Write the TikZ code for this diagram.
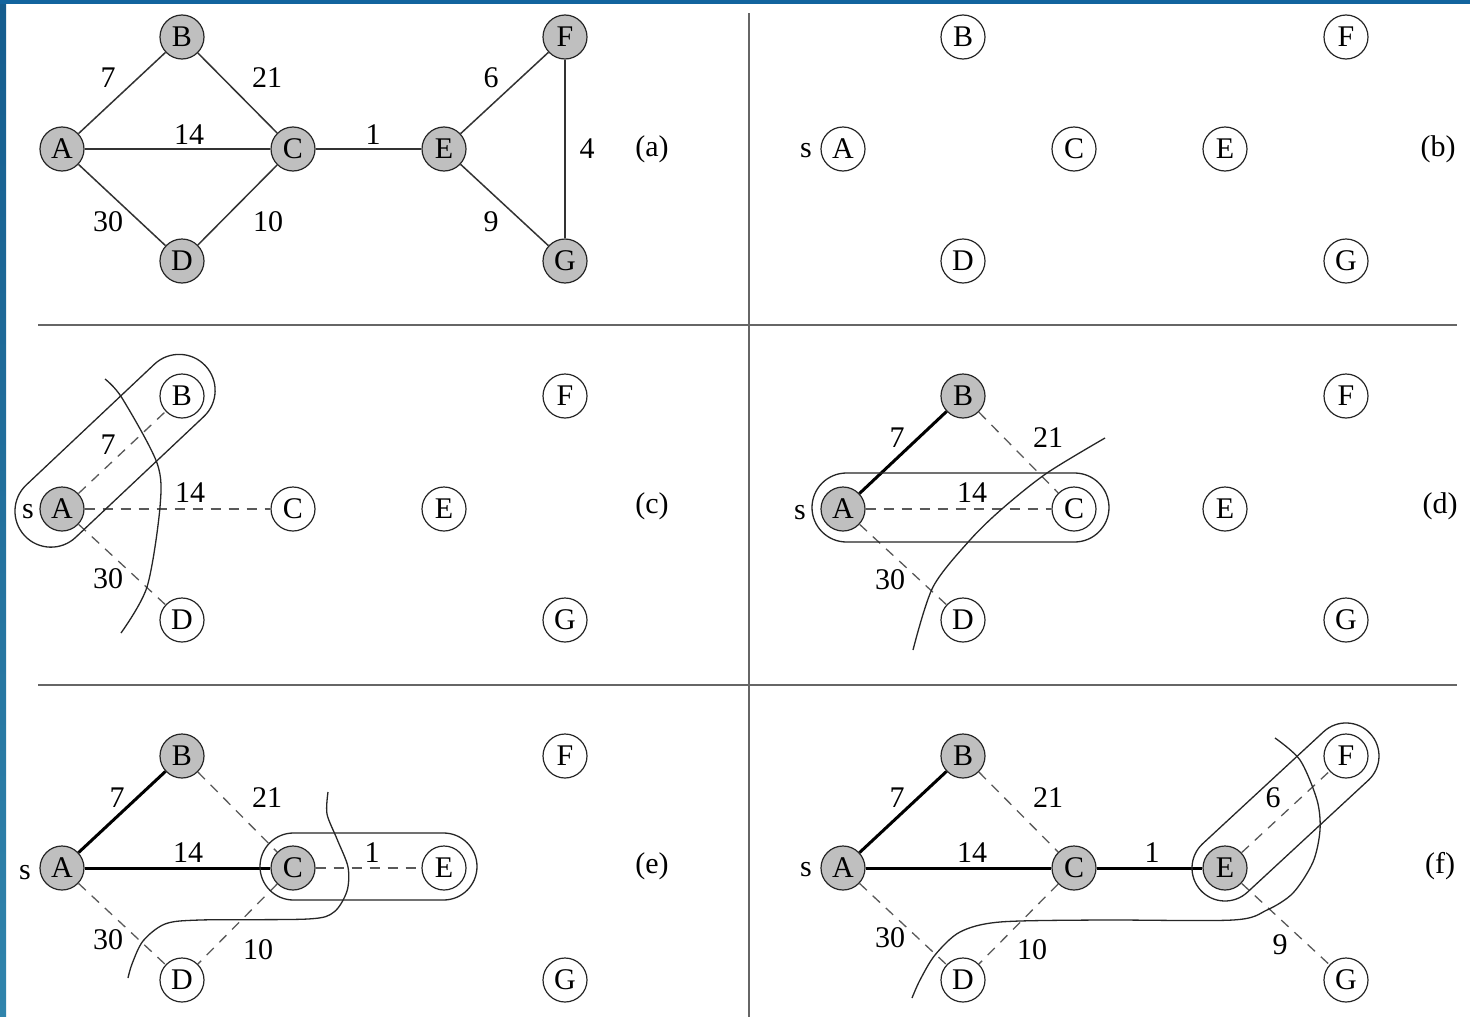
\documentclass[tikz,border=0pt]{standalone}
\usepackage{fontspec}
\setmainfont{Liberation Serif}
\newcommand\bigf{\fontsize{30}{36}\selectfont}
\definecolor{slideblue}{RGB}{18,100,158}
\definecolor{slideblueA}{RGB}{20,92,142}
\definecolor{slideblueB}{RGB}{48,132,172}
\begin{document}
\begin{tikzpicture}[x=1pt,y=-1pt,
  vtx/.style={circle, draw=black!85, line width=1.2pt, minimum size=44pt, inner sep=0pt, font=\bigf},
  gvtx/.style={vtx, fill=black!25},
  wvtx/.style={vtx, fill=white},
  plain/.style={draw=black!80, line width=1.5pt},
  tree/.style={draw=black, line width=3pt},
  cand/.style={draw=black!65, line width=1.3pt, dash pattern=on 10pt off 8pt},
  lbl/.style={font=\bigf, inner sep=0pt},
  grp/.style={draw=black!85, line width=1.3pt},
  cut/.style={draw=black!85, line width=1.3pt},
  divider/.style={draw=black!60, line width=2pt}
]
\useasboundingbox (0,0) rectangle (1470,1017);
\fill[white] (0,0) rectangle (1470,1017);
\shade[top color=slideblueA, bottom color=slideblueB] (0,0) rectangle (6,1017);
\fill[slideblue] (0,0) rectangle (1470,4);

% dividers
\coordinate (h1l) at (38,325); \coordinate (h1r) at (1457,325);
\coordinate (h2l) at (38,685); \coordinate (h2r) at (1457,685);
\coordinate (vt) at (749,13); \coordinate (vb) at (749,1017);
\draw[divider] (h1l) -- (h1r);
\draw[divider] (h2l) -- (h2r);
\draw[divider] (vt) -- (vb);

% ---------- panel (a)
\begin{scope}[name prefix=a-]
\node[gvtx] (A) at (62,149) {A};
\node[gvtx] (B) at (182,37) {B};
\node[gvtx] (C) at (293,149) {C};
\node[gvtx] (D) at (182,261) {D};
\node[gvtx] (E) at (444,149) {E};
\node[gvtx] (F) at (565,37) {F};
\node[gvtx] (G) at (565,261) {G};
\draw[plain] (A) -- (B); \draw[plain] (B) -- (C); \draw[plain] (A) -- (C);
\draw[plain] (A) -- (D); \draw[plain] (D) -- (C); \draw[plain] (C) -- (E);
\draw[plain] (E) -- (F); \draw[plain] (E) -- (G); \draw[plain] (F) -- (G);
\node[lbl] (l7) at (108,78) {7};
\node[lbl] (l21) at (267,78) {21};
\node[lbl] (l14) at (189,135) {14};
\node[lbl] (l1) at (373,135) {1};
\node[lbl] (l30) at (108,222) {30};
\node[lbl] (l10) at (268,222) {10};
\node[lbl] (l6) at (491,78) {6};
\node[lbl] (l4) at (587,149) {4};
\node[lbl] (l9) at (491,222) {9};
\node[lbl] (tag) at (652,149) {(a)};
\end{scope}

% ---------- panel (b)
\begin{scope}[shift={(781,0)}, name prefix=b-]
\node[wvtx] (A) at (62,149) {A};
\node[wvtx] (B) at (182,37) {B};
\node[wvtx] (C) at (293,149) {C};
\node[wvtx] (D) at (182,261) {D};
\node[wvtx] (E) at (444,149) {E};
\node[wvtx] (F) at (565,37) {F};
\node[wvtx] (G) at (565,261) {G};
\node[lbl] (s) at (25,151) {s};
\node[lbl] (tag) at (657,149) {(b)};
\end{scope}

% ---------- panel (c)
\begin{scope}[shift={(0,359)}, name prefix=c-]
\node[gvtx] (A) at (62,150) {A};
\node[wvtx] (B) at (182,37) {B};
\node[wvtx] (C) at (293,150) {C};
\node[wvtx] (D) at (182,261) {D};
\node[wvtx] (E) at (444,150) {E};
\node[wvtx] (F) at (565,37) {F};
\node[wvtx] (G) at (565,261) {G};
\draw[cand] (A) -- (B); \draw[cand] (A) -- (C); \draw[cand] (A) -- (D);
\node[lbl] (l7) at (108,86) {7};
\node[lbl] (l14) at (190,134) {14};
\node[lbl] (l30) at (108,220) {30};
\node[lbl] (s) at (28,153) {s};
\node[lbl] (tag) at (652,147) {(c)};
\begin{scope}[shift={(62,150)}, rotate=43.3]
\draw[grp, rounded corners=36pt] (-45.5,-42) rectangle (202.6,30);
\end{scope}
\draw[cut] plot[smooth] coordinates {(105,20) (122,39) (157,104) (160,148) (147,228) (121,274)};
\end{scope}

% ---------- panel (d)
\begin{scope}[shift={(781,359)}, name prefix=d-]
\node[gvtx] (A) at (62,150) {A};
\node[gvtx] (B) at (182,37) {B};
\node[wvtx] (C) at (293,150) {C};
\node[wvtx] (D) at (182,261) {D};
\node[wvtx] (E) at (444,150) {E};
\node[wvtx] (F) at (565,37) {F};
\node[wvtx] (G) at (565,261) {G};
\draw[tree] (A) -- (B);
\draw[cand] (B) -- (C); \draw[cand] (A) -- (C); \draw[cand] (A) -- (D);
\node[lbl] (l7) at (116,79) {7};
\node[lbl] (l21) at (267,79) {21};
\node[lbl] (l14) at (191,134) {14};
\node[lbl] (l30) at (109,221) {30};
\node[lbl] (s) at (19,154) {s};
\node[lbl] (tag) at (659,147) {(d)};
\draw[grp, rounded corners=34.5pt] (31,114) rectangle (328,183);
\draw[cut] plot[smooth] coordinates {(324,79) (266,114) (222,149) (189,181) (152,228) (132,291)};
\end{scope}

% ---------- panel (e)
\begin{scope}[shift={(0,719)}, name prefix=e-]
\node[gvtx] (A) at (62,149) {A};
\node[gvtx] (B) at (182,37) {B};
\node[gvtx] (C) at (293,149) {C};
\node[wvtx] (D) at (182,261) {D};
\node[wvtx] (E) at (444,149) {E};
\node[wvtx] (F) at (565,37) {F};
\node[wvtx] (G) at (565,261) {G};
\draw[tree] (A) -- (B); \draw[tree] (A) -- (C);
\draw[cand] (B) -- (C); \draw[cand] (A) -- (D); \draw[cand] (C) -- (D); \draw[cand] (C) -- (E);
\node[lbl] (l7) at (117,79) {7};
\node[lbl] (l21) at (267,79) {21};
\node[lbl] (l14) at (188,134) {14};
\node[lbl] (l1) at (372,134) {1};
\node[lbl] (l30) at (108,221) {30};
\node[lbl] (l10) at (258,231) {10};
\node[lbl] (s) at (25,154) {s};
\node[lbl] (tag) at (652,147) {(e)};
\draw[grp, rounded corners=33.5pt] (260,114) rectangle (477,181);
\draw[cut] plot[smooth] coordinates {(328,73) (327,95) (337,120) (348,148) (347,172) (334,193) (308,200) (200,201) (165,205) (143,222) (132,245) (128,259)};
\end{scope}

% ---------- panel (f)
\begin{scope}[shift={(781,719)}, name prefix=f-]
\node[gvtx] (A) at (62,149) {A};
\node[gvtx] (B) at (182,37) {B};
\node[gvtx] (C) at (293,149) {C};
\node[wvtx] (D) at (182,261) {D};
\node[gvtx] (E) at (444,149) {E};
\node[wvtx] (F) at (565,37) {F};
\node[wvtx] (G) at (565,261) {G};
\draw[tree] (A) -- (B); \draw[tree] (A) -- (C); \draw[tree] (C) -- (E);
\draw[cand] (B) -- (C); \draw[cand] (A) -- (D); \draw[cand] (C) -- (D);
\draw[cand] (E) -- (F); \draw[cand] (E) -- (G);
\node[lbl] (l7) at (116,79) {7};
\node[lbl] (l21) at (267,79) {21};
\node[lbl] (l14) at (191,134) {14};
\node[lbl] (l1) at (371,134) {1};
\node[lbl] (l30) at (109,219) {30};
\node[lbl] (l10) at (251,231) {10};
\node[lbl] (l6) at (492,79) {6};
\node[lbl] (l9) at (499,226) {9};
\node[lbl] (s) at (25,151) {s};
\node[lbl] (tag) at (659,147) {(f)};
\begin{scope}[shift={(444,149)}, rotate=42.8]
\draw[grp, rounded corners=33pt] (-33,-33) rectangle (197.9,33);
\end{scope}
\draw[cut] plot[smooth] coordinates {(494,19) (519,41) (536,81) (539,111) (532,143) (512,174) (486,191) (452,201) (319,201) (219,203) (179,213) (154,236) (139,261) (131,279)};
\end{scope}
\end{tikzpicture}
\end{document}
